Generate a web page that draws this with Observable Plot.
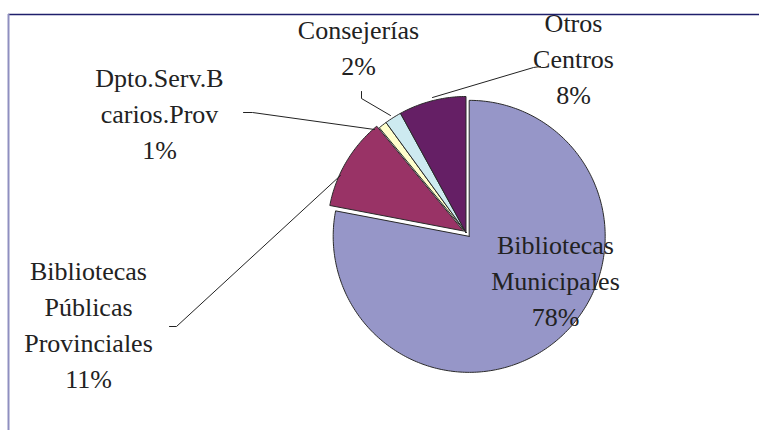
<!DOCTYPE html>
<html><head><meta charset="utf-8">
<script src="https://cdn.jsdelivr.net/npm/d3@7"></script>
<script src="https://cdn.jsdelivr.net/npm/@observablehq/plot@0.6"></script>
<style>body{margin:0;background:#fff}</style>
</head><body><div id="chart"></div>
<script>
// ---- data ----
const names = ["Bibliotecas Municipales", "Bibliotecas Públicas Provinciales", "Dpto.Serv.Bcarios.Prov", "Consejerías", "Otros Centros"];
const percents = [78, 11, 1, 2, 8];
const labelText = ["Bibliotecas\nMunicipales", "Bibliotecas\nPúblicas\nProvinciales", "Dpto.Serv.B\ncarios.Prov", "Consejerías", "Otros\nCentros"];
const colors = ["#9696c8", "#993366", "#ffffcc", "#cdeaf0", "#651f65"];

// ---- layout ----
const W = 759, H = 430;
const cx = 465.5, cy = 232, R = 136;
const explode = [5, 3, 0, 0, 0];
const labelPos = [[555, 278], [88, 322], [159, 111], [358, 45], [573, 56]];
const leaders = [
  [],
  [[169, 326], [176, 326], [340, 175]],
  [[243, 112], [252, 112], [374, 129]],
  [[361, 91], [361, 98], [390, 115]],
  [[540, 66], [533, 67], [432, 97]]
];
const FONT = "serif";

// ---- build ----
const arcs = d3.pie().sort(null).value(d => d)(percents);
const slicePts = [];
arcs.forEach((p, i) => {
  const mid = (p.startAngle + p.endAngle) / 2;
  const ox = cx + explode[i] * Math.sin(mid), oy = cy - explode[i] * Math.cos(mid);
  slicePts.push({name: names[i], x: ox, y: oy});
  const n = Math.max(2, Math.ceil((p.endAngle - p.startAngle) / (Math.PI / 180)));
  for (let k = 0; k <= n; k++) {
    const a = p.startAngle + (p.endAngle - p.startAngle) * k / n;
    slicePts.push({name: names[i], x: ox + R * Math.sin(a), y: oy - R * Math.cos(a)});
  }
  slicePts.push({name: names[i], x: ox, y: oy});
});
const labels = names.map((nm, i) => ({name: nm, x: labelPos[i][0], y: labelPos[i][1], text: labelText[i] + "\n" + percents[i] + "%"}));
const leaderPts = leaders.flatMap((pts, i) => pts.map(([x, y]) => ({id: names[i], x, y})));

const chart = Plot.plot({
  width: W, height: H,
  marginTop: 14, marginLeft: 8, marginRight: 0, marginBottom: 0,
  x: {domain: [8, W], range: [8, W], axis: null},
  y: {domain: [14, H], range: [14, H], axis: null},
  color: {domain: names, range: colors},
  marks: [
    Plot.line(slicePts, {x: "x", y: "y", z: "name", fill: "name", stroke: "#2a2a2a", strokeWidth: 1, strokeLinejoin: "round"}),
    Plot.line(leaderPts, {x: "x", y: "y", z: "id", stroke: "#222", strokeWidth: 1}),
    Plot.text(labels, {x: "x", y: "y", text: "text", fontSize: 26, lineHeight: 1.38, fill: "#222", fontFamily: FONT, clip: "frame"}),
    Plot.ruleY([14], {stroke: "#1f1f6b", strokeWidth: 1.5}),
    Plot.ruleX([8], {stroke: "#8f8fc0", strokeWidth: 2})
  ]
});
chart.setAttribute("font-family", FONT);
document.getElementById("chart").appendChild(chart);
</script>
</body></html>
